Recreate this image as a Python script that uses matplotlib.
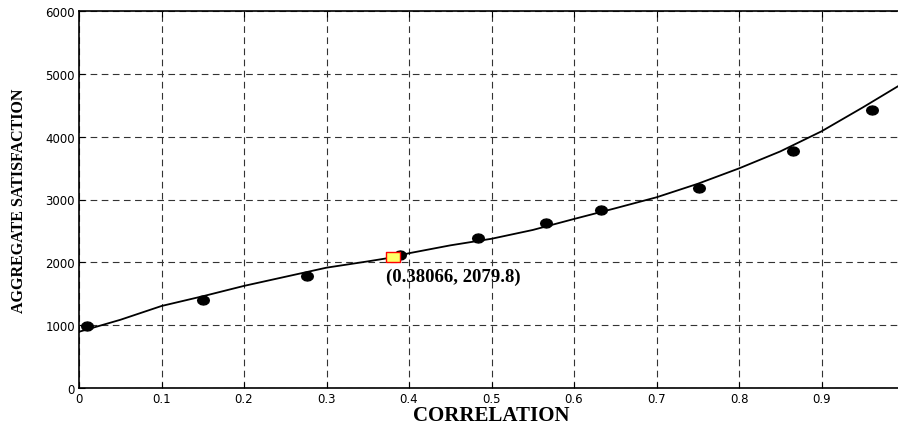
import matplotlib
matplotlib.use("Agg")
import matplotlib.pyplot as plt

# measured points
corr = [0.010, 0.150, 0.276, 0.389, 0.484, 0.566, 0.633, 0.752, 0.865, 0.961]
satis = [980, 1400, 1785, 2115, 2390, 2620, 2840, 3185, 3775, 4425]

# fitted curve
fit_x = [0.0, 0.05, 0.10, 0.15, 0.20, 0.25, 0.30, 0.35, 0.38066, 0.40, 0.45,
         0.50, 0.55, 0.60, 0.65, 0.70, 0.75, 0.80, 0.85, 0.90, 0.95, 1.0]
fit_y = [895, 1085, 1305, 1460, 1625, 1770, 1915, 2015, 2080, 2145, 2270,
         2375, 2515, 2690, 2860, 3035, 3250, 3495, 3765, 4085, 4465, 4860]

# data tip
tip_x = 0.38066
tip_y = 2079.8
tip_text = '(0.38066, 2079.8)'

xticks = [0, 0.1, 0.2, 0.3, 0.4, 0.5, 0.6, 0.7, 0.8, 0.9]
yticks = [0, 1000, 2000, 3000, 4000, 5000, 6000]

fig = plt.figure(figsize=(8.98, 4.27), dpi=100)
ax = fig.add_axes([79/898, 38/427, 825/898, 377/427])

ax.plot(fit_x, fit_y, '-', color='black', lw=1.3, zorder=3)
dot = [(1.3 * c, s) for c, s in [(1, 0), (0.87, 0.5), (0.5, 0.87), (0, 1), (-0.5, 0.87),
                                 (-0.87, 0.5), (-1, 0), (-0.87, -0.5), (-0.5, -0.87),
                                 (0, -1), (0.5, -0.87), (0.87, -0.5), (1, 0)]]
ax.plot(corr, satis, marker=dot, ls='none', color='black', ms=8.5, zorder=4)
box = [(-1.35, -1), (1.35, -1), (1.35, 1), (-1.35, 1), (-1.35, -1)]
ax.plot([tip_x], [tip_y], marker=box, ms=10, mfc='#ffff66', mec='red', mew=1.0,
        ls='none', zorder=5)
ax.annotate(tip_text, (tip_x, tip_y), xytext=(-5, -14), textcoords='offset points',
            ha='left', va='center', fontsize=13.5, fontweight='bold',
            family='Liberation Serif', zorder=6)

ax.set_xlim(0, 1)
ax.set_ylim(0, 6000)
ax.set_xticks(xticks)
ax.set_xticklabels([('%g' % t) for t in xticks])
ax.set_yticks(yticks)
ax.tick_params(direction='in', length=4, width=0.8, labelsize=8.5, top=True, right=True,
               pad=3)
for lab in ax.get_xticklabels() + ax.get_yticklabels():
    lab.set_family('DejaVu Sans')

ax.grid(True, color='#333333', ls=(0, (6, 4)), lw=0.8)
for s in ax.spines.values():
    s.set_linewidth(1.2)

ax.set_xlabel('CORRELATION', fontsize=15, fontweight='bold', family='Liberation Serif',
              labelpad=0)
ax.set_ylabel('AGGREGATE SATISFACTION', fontsize=11.5, fontweight='bold',
              family='Liberation Serif', labelpad=13)

fig.savefig('out.png', dpi=100)
